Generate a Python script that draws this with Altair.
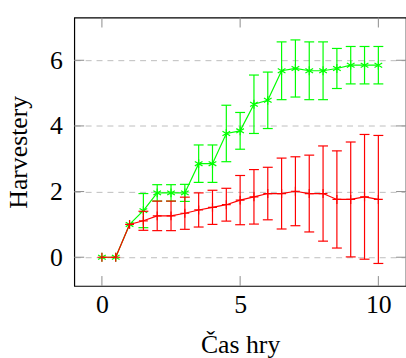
import altair as alt
import pandas as pd

# x positions (game time)
times = [0, 0.5, 1, 1.5, 2, 2.5, 3, 3.5, 4, 4.5, 5, 5.5, 6, 6.5, 7, 7.5, 8, 8.5, 9, 9.5, 10]

# green series (asterisk marks)
green_mean = [0, 0, 1.0, 1.42, 1.96, 1.96, 1.96, 2.85, 2.85, 3.77, 3.85, 4.66, 4.78, 5.68, 5.75, 5.68, 5.68, 5.75, 5.85, 5.85, 5.85]
green_err = [0, 0, 0, 0.52, 0.25, 0.25, 0.26, 0.57, 0.57, 0.86, 0.56, 0.89, 0.86, 0.88, 0.87, 0.88, 0.88, 0.61, 0.57, 0.57, 0.57]

# red series (plus marks)
red_mean = [0, 0, 1.0, 1.11, 1.26, 1.26, 1.34, 1.44, 1.52, 1.6, 1.74, 1.84, 1.94, 1.94, 2.01, 1.94, 1.94, 1.76, 1.76, 1.84, 1.76]
red_err = [0, 0, 0, 0.29, 0.45, 0.45, 0.49, 0.52, 0.52, 0.5, 0.75, 0.83, 0.8, 1.08, 1.05, 1.17, 1.45, 1.48, 1.75, 1.9, 1.95]

x_ticks = [0, 5, 10]
y_ticks = [0, 2, 4, 6]

W, H = 335, 271
FONT = "Liberation Serif"
FS = 26
TICK_COLOR = "#8c8c8c"

xs = alt.Scale(domain=[-1, 11], nice=False, zero=False)
ys = alt.Scale(domain=[-0.875, 7.3], nice=False, zero=False)

ASTERISK = "M0,-1L0,1M-0.866,-0.5L0.866,0.5M-0.866,0.5L0.866,-0.5"
PLUS = "M-1,0L1,0M0,-1L0,1"


def series_layers(mean, err, color, shape, with_axes=False):
    df = pd.DataFrame({"t": times, "m": mean, "e": err})
    df["lo"] = df["m"] - df["e"]
    df["hi"] = df["m"] + df["e"]
    base = alt.Chart(df)
    if with_axes:
        xenc = alt.X("t:Q", scale=xs, axis=alt.Axis(
            values=x_ticks, ticks=False, grid=False, domain=False,
            labelFont=FONT, labelFontSize=FS, labelColor="black", labelPadding=6,
            title="Čas hry", titleFont=FONT, titleFontSize=FS, titleFontWeight="normal",
            titleColor="black", titleX=W / 2, titleY=67, titleBaseline="alphabetic",
            titleAlign="center"))
        yenc = alt.Y("m:Q", scale=ys, axis=alt.Axis(
            values=y_ticks, ticks=False, grid=True, gridColor="#bdbdbd",
            gridDash=[6, 5], gridWidth=1, domain=False,
            labelFont=FONT, labelFontSize=FS, labelColor="black", labelPadding=12,
            title="Harvestery", titleFont=FONT, titleFontSize=FS, titleFontWeight="normal",
            titleColor="black", titleAngle=-90, titleX=-48, titleY=H / 2,
            titleBaseline="alphabetic", titleAlign="center"))
    else:
        xenc = alt.X("t:Q", scale=xs)
        yenc = alt.Y("m:Q", scale=ys)
    line = base.mark_line(color=color, strokeWidth=1.2).encode(x=xenc, y=yenc)
    bars = base.transform_filter("datum.e > 0").mark_rule(color=color, strokeWidth=1.2).encode(
        x=alt.X("t:Q", scale=xs), y=alt.Y("lo:Q", scale=ys), y2="hi:Q")
    cap_lo = base.transform_filter("datum.e > 0").mark_tick(
        color=color, orient="horizontal", size=10, thickness=1.2, opacity=1).encode(
        x=alt.X("t:Q", scale=xs), y=alt.Y("lo:Q", scale=ys))
    cap_hi = base.transform_filter("datum.e > 0").mark_tick(
        color=color, orient="horizontal", size=10, thickness=1.2, opacity=1).encode(
        x=alt.X("t:Q", scale=xs), y=alt.Y("hi:Q", scale=ys))
    pts = base.mark_point(shape=shape, filled=False, stroke=color, strokeWidth=1.2,
                          size=80, opacity=1).encode(
        x=alt.X("t:Q", scale=xs), y=alt.Y("m:Q", scale=ys))
    return [line, bars, cap_lo, cap_hi, pts]


green = series_layers(green_mean, green_err, "#00ff00", ASTERISK, with_axes=True)
red = series_layers(red_mean, red_err, "#ff0000", PLUS)

# inner tick marks (pgfplots style)
xt = pd.DataFrame({"t": x_ticks})
yt = pd.DataFrame({"v": y_ticks})
xt_bottom = alt.Chart(xt).mark_rule(color=TICK_COLOR, strokeWidth=1).encode(
    x=alt.X("t:Q", scale=xs), y=alt.value(H), y2=alt.value(H - 10))
xt_top = alt.Chart(xt).mark_rule(color=TICK_COLOR, strokeWidth=1).encode(
    x=alt.X("t:Q", scale=xs), y=alt.value(0), y2=alt.value(10))
yt_left = alt.Chart(yt).mark_rule(color=TICK_COLOR, strokeWidth=1).encode(
    y=alt.Y("v:Q", scale=ys), x=alt.value(0), x2=alt.value(10))
yt_right = alt.Chart(yt).mark_rule(color=TICK_COLOR, strokeWidth=1).encode(
    y=alt.Y("v:Q", scale=ys), x=alt.value(W), x2=alt.value(W - 10))

chart = alt.layer(*green, *red, xt_bottom, xt_top, yt_left, yt_right).properties(
    width=W, height=H,
    autosize=alt.AutoSizeParams(type="none"),
    padding={"left": 75, "top": 16, "right": 0, "bottom": 72},
    background="white",
).configure_view(stroke="black", strokeWidth=1.2)

chart.save("out.html", embed_options={"renderer": "svg", "actions": False})
